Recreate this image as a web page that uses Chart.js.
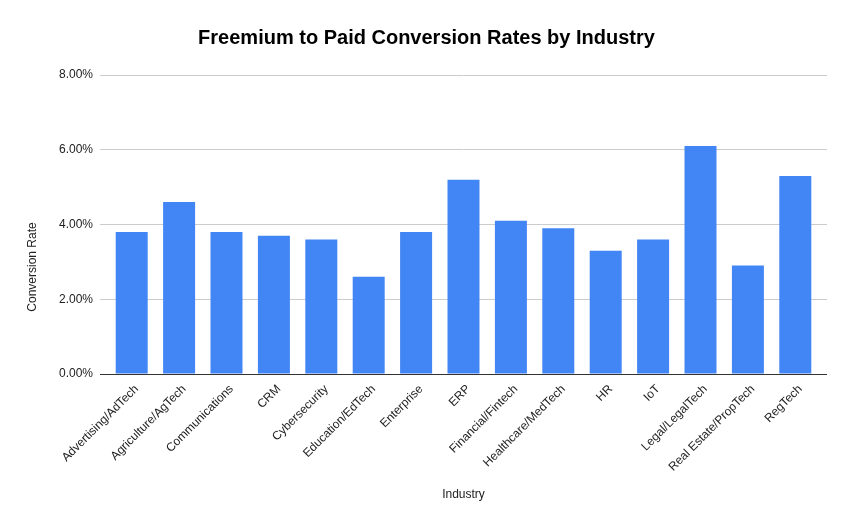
<!DOCTYPE html>
<html>
<head>
<meta charset="utf-8">
<script src="https://cdn.jsdelivr.net/npm/chart.js@4"></script>
<style>
  html, body { margin: 0; padding: 0; background: #fff; }
  #wrap { width: 853px; height: 528px; }
</style>
</head>
<body>
<div id="wrap"><canvas id="convChart" width="853" height="528"></canvas></div>
<script>
// industries along the x axis
const industries = [
  'Advertising/AdTech', 'Agriculture/AgTech', 'Communications', 'CRM',
  'Cybersecurity', 'Education/EdTech', 'Enterprise', 'ERP',
  'Financial/Fintech', 'Healthcare/MedTech', 'HR', 'IoT',
  'Legal/LegalTech', 'Real Estate/PropTech', 'RegTech'
];
// conversion rate, in percent
const conversionRates = [3.8, 4.6, 3.8, 3.7, 3.6, 2.6, 3.8, 5.2, 4.1, 3.9, 3.3, 3.6, 6.1, 2.9, 5.3];
const yTicks = [0, 2, 4, 6, 8];
const yTitle = 'Conversion Rate';

const FONT = "'Liberation Sans', Arial, sans-serif";
const TEXT_COLOR = '#222';
const GRID_COLOR = '#cccccc';
const ZERO_COLOR = '#333333';

// zero line is dark, the rest light grey
const lineColor = ctx => (ctx.tick && ctx.tick.value === 0 ? ZERO_COLOR : GRID_COLOR);
const setTicks = s => { s.ticks = yTicks.map(v => ({ value: v })); };

// y title sits at the vertical middle of the whole canvas, not the plot
const yTitlePlugin = {
  id: 'yTitle',
  afterDraw(chart) {
    const ctx = chart.ctx;
    ctx.save();
    ctx.translate(33, chart.height / 2 + 3);
    ctx.rotate(-Math.PI / 2);
    ctx.font = '12px ' + FONT;
    ctx.fillStyle = TEXT_COLOR;
    ctx.textAlign = 'center';
    ctx.textBaseline = 'middle';
    ctx.fillText(yTitle, 0, 0);
    ctx.restore();
  },
};

new Chart(document.getElementById('convChart'), {
  type: 'bar',
  data: {
    labels: industries,
    datasets: [{
      label: yTitle,
      data: conversionRates,
      backgroundColor: '#4285f4',
      categoryPercentage: 1,
      barPercentage: 0.675,
      yAxisID: 'y',
    }],
  },
  options: {
    responsive: false,
    animation: false,
    layout: { padding: 0 },
    plugins: {
      legend: { display: false },
      tooltip: { enabled: false },
      title: {
        display: true,
        text: 'Freemium to Paid Conversion Rates by Industry',
        color: '#000',
        font: { family: FONT, size: 20, weight: 'bold' },
        padding: { top: 26, bottom: 25 },
      },
    },
    scales: {
      x: {
        grid: { display: false },
        border: { display: true, color: ZERO_COLOR, width: 1 },
        ticks: {
          color: TEXT_COLOR,
          font: { family: FONT, size: 12 },
          minRotation: 45,
          maxRotation: 45,
          autoSkip: false,
          padding: 0,
          labelOffset: 5,
        },
        title: {
          display: true,
          text: 'Industry',
          color: TEXT_COLOR,
          font: { family: FONT, size: 12 },
          padding: { top: 0, bottom: 26 },
        },
        afterFit: s => { s.height = 154; },
      },
      y: {
        position: 'left',
        min: 0,
        max: 8,
        afterBuildTicks: setTicks,
        grid: { color: lineColor, tickColor: lineColor, drawTicks: true, tickLength: 8 },
        border: { display: false },
        ticks: {
          color: TEXT_COLOR,
          font: { family: FONT, size: 12 },
          padding: 7,
          callback: v => v.toFixed(2) + '%',
        },
        afterFit: s => { s.width = 108; },
      },
      yRight: {
        position: 'right',
        min: 0,
        max: 8,
        afterBuildTicks: setTicks,
        grid: { drawOnChartArea: false, tickColor: lineColor, drawTicks: true, tickLength: 8 },
        border: { display: false },
        ticks: { display: false },
        afterFit: s => { s.width = 34; },
      },
    },
  },
  plugins: [yTitlePlugin],
});
</script>
</body>
</html>
